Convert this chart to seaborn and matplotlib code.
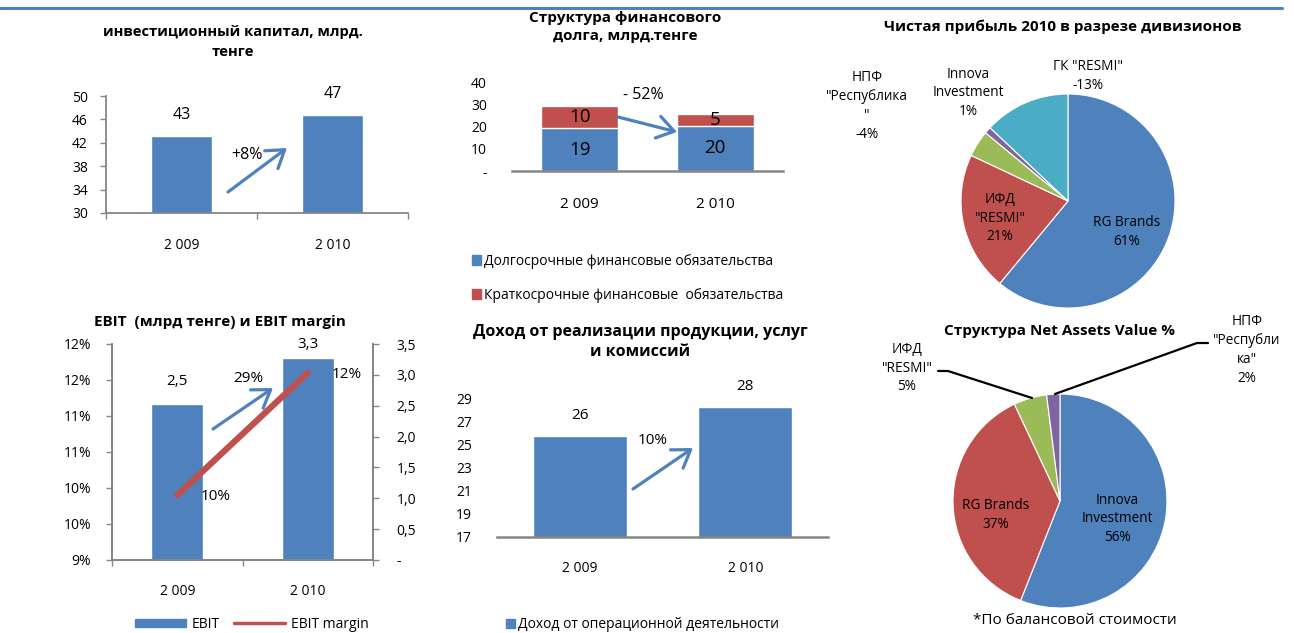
import numpy as np
import pandas as pd
import matplotlib
matplotlib.use("Agg")
import matplotlib.pyplot as plt
import seaborn as sns
from matplotlib.patches import FancyArrowPatch, Patch
from matplotlib.lines import Line2D

# ---------------- data ----------------
years = ["2 009", "2 010"]

capital = [43.2, 46.8]
capital_labels = ["43", "47"]
capital_growth = "+8%"

debt_long = [19.3, 20.4]
debt_short = [9.9, 5.1]
debt_long_labels = ["19", "20"]
debt_short_labels = ["10", "5"]
debt_change = "- 52%"
debt_series = ["Долгосрочные финансовые обязательства",
               "Краткосрочные финансовые  обязательства"]

ebit = [2.53, 3.27]
ebit_labels = ["2,5", "3,3"]
ebit_margin = [0.099, 0.116]
ebit_margin_labels = ["10%", "12%"]
ebit_growth = "29%"
ebit_right_ticks = [0, 0.5, 1.0, 1.5, 2.0, 2.5, 3.0, 3.5]
ebit_right_labels = ["-", "0,5", "1,0", "1,5", "2,0", "2,5", "3,0", "3,5"]
margin_ticks = [0.09, 0.095, 0.10, 0.105, 0.11, 0.115, 0.12]
margin_tick_labels = ["9%", "10%", "10%", "11%", "11%", "12%", "12%"]

revenue = [25.7, 28.2]
revenue_labels = ["26", "28"]
revenue_growth = "10%"

profit_names = ["RG Brands", "ИФД\n\"RESMI\"", "НПФ\n\"Республика\n\"",
                "Innova\nInvestment", "ГК \"RESMI\""]
profit_share = [61, 21, -4, 1, -13]

nav_names = ["Innova\nInvestment", "RG Brands", "ИФД\n\"RESMI\"",
             "НПФ\n\"Республи\nка\""]
nav_share = [56, 37, 5, 2]

# ---------------- style ----------------
BLUE = "#4F81BD"
RED = "#C0504D"
GREEN = "#9BBB59"
PURPLE = "#8064A2"
CYAN = "#4BACC6"
GRAY = "#868686"

sns.set_theme(style="white")
plt.rcParams["font.family"] = ["Open Sans", "DejaVu Sans"]
plt.rcParams["text.color"] = "black"
plt.rcParams["axes.labelcolor"] = "black"
plt.rcParams["xtick.color"] = "black"
plt.rcParams["ytick.color"] = "black"

W, H = 1294, 633
fig = plt.figure(figsize=(W / 100, H / 100), dpi=100)
fig.patch.set_facecolor("white")


def rect(l, t, r, b):
    return [l / W, 1 - b / H, (r - l) / W, (b - t) / H]


def fp(x, y):
    return (x / W, 1 - y / H)


def ftext(x, y, s, **kw):
    kw.setdefault("ha", "center")
    kw.setdefault("va", "center")
    fig.text(x / W, 1 - y / H, s, **kw)


def arrow(x0, y0, x1, y1):
    a = FancyArrowPatch(fp(x0, y0), fp(x1, y1), transform=fig.transFigure,
                        arrowstyle="->,head_length=0.6,head_width=0.4",
                        mutation_scale=20, lw=2.3, color=BLUE,
                        shrinkA=0, shrinkB=0)
    fig.add_artist(a)


def fline(xs, ys, **kw):
    fig.add_artist(Line2D([x / W for x in xs], [1 - y / H for y in ys],
                          transform=fig.transFigure, **kw))


def style_cat_axis(ax, pad):
    ax.set_xlim(-0.5, 1.5)
    ax.set_xticks([0, 1])
    ax.set_xticklabels(years)
    ax.tick_params(axis="x", which="major", length=0, pad=pad, labelsize=10)
    ax.set_xlabel("")
    ax.set_ylabel("")


# top rule
fline([0, 1282], [8, 8], color=BLUE, lw=2.2)

# ---------------- panel 1: invested capital ----------------
ax1 = fig.add_axes(rect(106, 96, 408, 213))
df1 = pd.DataFrame({"year": years, "value": capital})
sns.barplot(data=df1, x="year", y="value", color=BLUE, saturation=1,
            width=0.4, ax=ax1)
ax1.set_ylim(30, 50)
ax1.set_yticks(np.arange(30, 51, 4))
style_cat_axis(ax1, 18)
ax1.set_xticks([-0.5, 0.5, 1.5], minor=True)
ax1.tick_params(axis="x", which="minor", bottom=True, length=4, color=GRAY, width=1)
ax1.tick_params(axis="y", left=True, length=4, color=GRAY, width=1, pad=9, labelsize=10)
for s in ["top", "right"]:
    ax1.spines[s].set_visible(False)
for s in ["left", "bottom"]:
    ax1.spines[s].set_color(GRAY)
    ax1.spines[s].set_linewidth(1.3)
for i, (v, t) in enumerate(zip(capital, capital_labels)):
    ax1.annotate(t, (i, v), xytext=(0, 15), textcoords="offset points",
                 ha="center", va="center", fontsize=11.5)
ftext(233, 42, "инвестиционный капитал, млрд.\nтенге", fontsize=10.6,
      fontweight="bold", linespacing=1.5)
ftext(247, 155, capital_growth, fontsize=11.5)
arrow(228, 192, 287, 148)

# ---------------- panel 2: debt structure ----------------
ax2 = fig.add_axes(rect(512, 82, 783, 171))
total_debt = [a + b for a, b in zip(debt_long, debt_short)]
df2 = pd.DataFrame({"year": years, "long": debt_long, "total": total_debt})
sns.barplot(data=df2, x="year", y="total", color=RED, saturation=1,
            width=0.57, ax=ax2)
sns.barplot(data=df2, x="year", y="long", color=BLUE, saturation=1,
            width=0.57, ax=ax2)
ax2.set_ylim(0, 40)
ax2.set_yticks([0, 10, 20, 30, 40])
ax2.set_yticklabels(["-", "10", "20", "30", "40"])
style_cat_axis(ax2, 19)
ax2.tick_params(axis="x", labelsize=11)
ax2.tick_params(axis="y", left=False, length=0, pad=18, labelsize=10)
for s in ["top", "right", "left"]:
    ax2.spines[s].set_visible(False)
ax2.spines["bottom"].set_color(GRAY)
ax2.spines["bottom"].set_linewidth(1.8)
for i in range(2):
    ax2.annotate(debt_long_labels[i], (i, debt_long[i] / 2), ha="center",
                 va="center", fontsize=13.5)
    ax2.annotate(debt_short_labels[i], (i, debt_long[i] + debt_short[i] / 2),
                 ha="center", va="center", fontsize=13.5)
ax2.legend(handles=[Patch(color=BLUE), Patch(color=RED)], labels=debt_series,
           loc="upper left", bbox_to_anchor=fp(472, 254),
           bbox_transform=fig.transFigure, frameon=False, fontsize=10,
           handlelength=0.65, handleheight=0.65, handletextpad=0.25,
           labelspacing=1.35, borderaxespad=0, borderpad=0)
ftext(625, 27, "Структура финансового\nдолга, млрд.тенге", fontsize=11,
      fontweight="bold", linespacing=1.45)
ftext(643, 95, debt_change, fontsize=11.5)
arrow(618, 117, 677, 132)

# ---------------- panel 3: net profit pie ----------------
ax3 = fig.add_axes(rect(961, 94, 1175, 308))
ax3.pie([abs(v) for v in profit_share],
        colors=[BLUE, RED, GREEN, PURPLE, CYAN], startangle=90,
        counterclock=False, wedgeprops=dict(edgecolor="white", linewidth=0.8))
ax3.set_xlim(-1, 1)
ax3.set_ylim(-1, 1)
ax3.set_aspect("equal")
ax3.axis("off")
profit_pos = [(1127, 232), (1000, 218), (867, 106), (968, 93), (1088, 76)]
for (x, y), n, v in zip(profit_pos, profit_names, profit_share):
    ftext(x, y, f"{n}\n{v}%", fontsize=9.8, linespacing=1.35)
ftext(1063, 27, "Чистая прибыль 2010 в разрезе дивизионов", fontsize=11,
      fontweight="bold")

# ---------------- panel 4: EBIT ----------------
ax4 = fig.add_axes(rect(112, 344, 373, 560))
df4 = pd.DataFrame({"year": years, "ebit": ebit})
sns.barplot(data=df4, x="year", y="ebit", color=BLUE, saturation=1,
            width=0.4, ax=ax4)
ax4b = ax4.twinx()
sns.lineplot(x=[0, 1], y=ebit_margin, color=RED, lw=4.5, ax=ax4b,
             solid_capstyle="round")
# bars (EBIT) -> right axis, margin line -> left axis
ax4.set_ylim(0, 3.5)
ax4.set_yticks(ebit_right_ticks)
ax4.set_yticklabels(ebit_right_labels)
style_cat_axis(ax4, 17)
ax4.set_xticks([-0.5, 0.5, 1.5], minor=True)
ax4.tick_params(axis="x", which="minor", bottom=True, length=4, color=GRAY, width=1)
ax4.yaxis.tick_right()
ax4.tick_params(axis="y", right=True, left=False, labelright=True,
                labelleft=False, length=4, color=GRAY, width=1, pad=13,
                labelsize=10)
ax4b.set_ylim(0.09, 0.12)
ax4b.set_yticks(margin_ticks)
ax4b.set_yticklabels(margin_tick_labels)
ax4b.yaxis.tick_left()
ax4b.tick_params(axis="y", left=True, right=False, labelleft=True,
                 labelright=False, length=4, color=GRAY, width=1, pad=11,
                 labelsize=10)
ax4b.set_ylabel("")
ax4b.set_xlim(-0.5, 1.5)
for a in (ax4, ax4b):
    a.spines["top"].set_visible(False)
    for s in ["left", "right", "bottom"]:
        a.spines[s].set_color(GRAY)
        a.spines[s].set_linewidth(1.3)
ebit_offsets = [16, 10]
for i, (v, t) in enumerate(zip(ebit, ebit_labels)):
    ax4.annotate(t, (i, v), xytext=(0, ebit_offsets[i]),
                 textcoords="offset points", ha="center", va="center",
                 fontsize=11)
for i, (v, t) in enumerate(zip(ebit_margin, ebit_margin_labels)):
    ax4b.annotate(t, (i, v), xytext=(28, -1), textcoords="offset points",
                  ha="center", va="center", fontsize=11)
ax4.legend(handles=[Patch(color=BLUE),
                    Line2D([0], [0], color=RED, lw=2.5)],
           labels=["EBIT", "EBIT margin"], loc="center left",
           bbox_to_anchor=fp(135, 624), bbox_transform=fig.transFigure,
           ncol=2, frameon=False, fontsize=10, handlelength=3.7,
           handleheight=0.5, handletextpad=0.4, columnspacing=1.0,
           borderaxespad=0, borderpad=0)
ftext(220, 322, "EBIT  (млрд тенге) и EBIT margin", fontsize=11,
      fontweight="bold")
ftext(248, 379, ebit_growth, fontsize=11)
arrow(213, 429, 273, 388)

# ---------------- panel 5: revenue ----------------
ax5 = fig.add_axes(rect(497, 398, 828, 537))
df5 = pd.DataFrame({"year": years, "rev": revenue})
sns.barplot(data=df5, x="year", y="rev", color=BLUE, saturation=1,
            width=0.57, ax=ax5)
ax5.set_ylim(17, 29)
ax5.set_yticks(np.arange(17, 30, 2))
style_cat_axis(ax5, 17)
ax5.tick_params(axis="y", left=False, length=0, pad=18, labelsize=10)
for s in ["top", "right", "left"]:
    ax5.spines[s].set_visible(False)
ax5.spines["bottom"].set_color(GRAY)
ax5.spines["bottom"].set_linewidth(1.8)
for i, (v, t) in enumerate(zip(revenue, revenue_labels)):
    ax5.annotate(t, (i, v), xytext=(0, 15), textcoords="offset points",
                 ha="center", va="center", fontsize=11, annotation_clip=False)
ax5.legend(handles=[Patch(color=BLUE)],
           labels=["Доход от операционной деятельности"], loc="center left",
           bbox_to_anchor=fp(506, 625), bbox_transform=fig.transFigure,
           frameon=False, fontsize=10, handlelength=0.65, handleheight=0.65,
           handletextpad=0.25, borderaxespad=0, borderpad=0)
ftext(640, 342, "Доход от реализации продукции, услуг\nи комиссий",
      fontsize=11.5, fontweight="bold", linespacing=1.4)
ftext(653, 440, revenue_growth, fontsize=11)
arrow(633, 489, 693, 448)

# ---------------- panel 6: NAV pie ----------------
ax6 = fig.add_axes(rect(953, 394, 1167, 608))
ax6.pie(nav_share, colors=[BLUE, RED, GREEN, PURPLE], startangle=90,
        counterclock=False, wedgeprops=dict(edgecolor="white", linewidth=0.8))
ax6.set_xlim(-1, 1)
ax6.set_ylim(-1, 1)
ax6.set_aspect("equal")
ax6.axis("off")
nav_pos = [(1117, 519), (996, 515), (907, 368), (1247, 350)]
for (x, y), n, v in zip(nav_pos, nav_names, nav_share):
    ftext(x, y, f"{n}\n{v}%", fontsize=9.8, linespacing=1.35)
fline([938, 948, 1032], [371, 371, 398], color="black", lw=1.6)
fline([1208, 1197, 1055], [343, 343, 394], color="black", lw=1.6)
ftext(1060, 331, "Структура Net Assets Value %", fontsize=11,
      fontweight="bold")
ftext(1075, 620, "*По балансовой стоимости", fontsize=11)

fig.savefig("out.png", dpi=100)
